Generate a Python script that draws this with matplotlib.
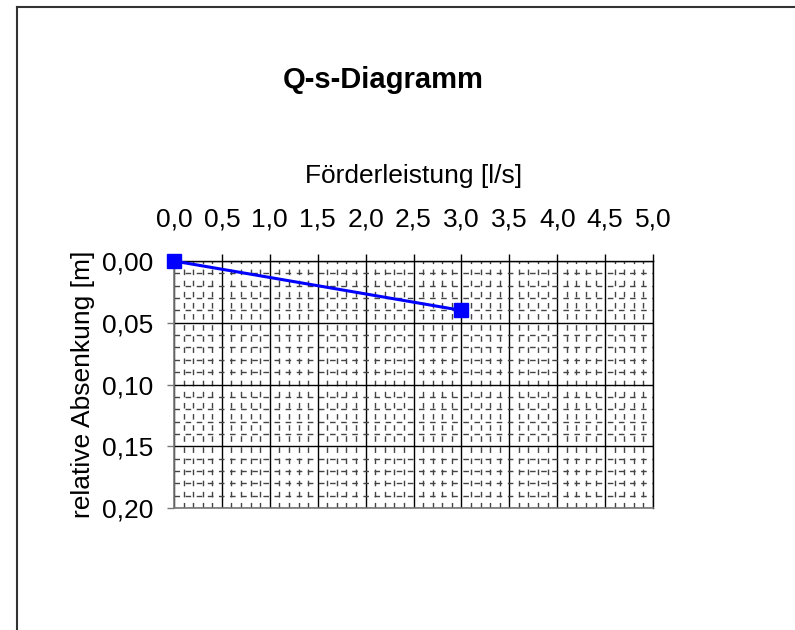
import matplotlib
matplotlib.use("Agg")
import matplotlib.pyplot as plt
from matplotlib.ticker import MultipleLocator, FuncFormatter
from matplotlib.lines import Line2D

plt.rcParams['font.family'] = ['Liberation Sans', 'DejaVu Sans']

# data
foerderleistung = [0.0, 3.0]      # l/s
absenkung = [0.00, 0.04]          # m

title = "Q-s-Diagramm"
xlabel = "Förderleistung [l/s]"
ylabel = "relative Absenkung [m]"

fig = plt.figure(figsize=(7.95, 6.3), dpi=100)
ax = fig.add_axes([174/795, 1-508/630, 479/795, 247/630])

ax.plot(foerderleistung, absenkung, color="#0000FF", lw=2.2,
        marker="s", markersize=10, clip_on=False, zorder=5)

ax.set_xlim(0, 5)
ax.set_ylim(0.20, 0.0)

ax.xaxis.set_major_locator(MultipleLocator(0.5))
ax.xaxis.set_minor_locator(MultipleLocator(0.1))
ax.yaxis.set_major_locator(MultipleLocator(0.05))
ax.yaxis.set_minor_locator(MultipleLocator(0.01))
ax.xaxis.set_major_formatter(FuncFormatter(lambda v, p: ("%.1f" % v).replace(".", ",")))
ax.yaxis.set_major_formatter(FuncFormatter(lambda v, p: ("%.2f" % v).replace(".", ",")))

ax.xaxis.tick_top()
ax.xaxis.set_label_position("top")
ax.tick_params(axis="x", which="major", direction="out", length=5, width=1,
               labelsize=19, pad=16, colors="black")
ax.tick_params(axis="x", which="minor", direction="in", length=0)
ax.tick_params(axis="y", which="major", direction="out", length=5, width=1,
               labelsize=19, pad=10, color="#777777")
ax.tick_params(axis="y", which="minor", direction="in", length=0)

ax.grid(which="major", color="black", lw=1)
ax.grid(which="minor", color="#444444", lw=1, linestyle=(0, (4, 4)))
ax.set_axisbelow(True)

for side in ["left", "bottom"]:
    ax.spines[side].set_color("#777777")
    ax.spines[side].set_linewidth(1.2)
for side in ["top", "right"]:
    ax.spines[side].set_color("black")
    ax.spines[side].set_linewidth(1)

ax.set_xlabel(xlabel, fontsize=19, labelpad=18)
ax.set_ylabel(ylabel, fontsize=19, labelpad=5)
fig.text(383/795, 1-80/630, title, fontsize=21, fontweight="bold",
         ha="center", va="center")

# outer frame of the chart
fig.add_artist(Line2D([17/795, 17/795], [0, 1-7/630], color="#333333", lw=1.5))
fig.add_artist(Line2D([17/795, 1], [1-7/630, 1-7/630], color="#333333", lw=1.5))

fig.savefig("out.png", dpi=100)
